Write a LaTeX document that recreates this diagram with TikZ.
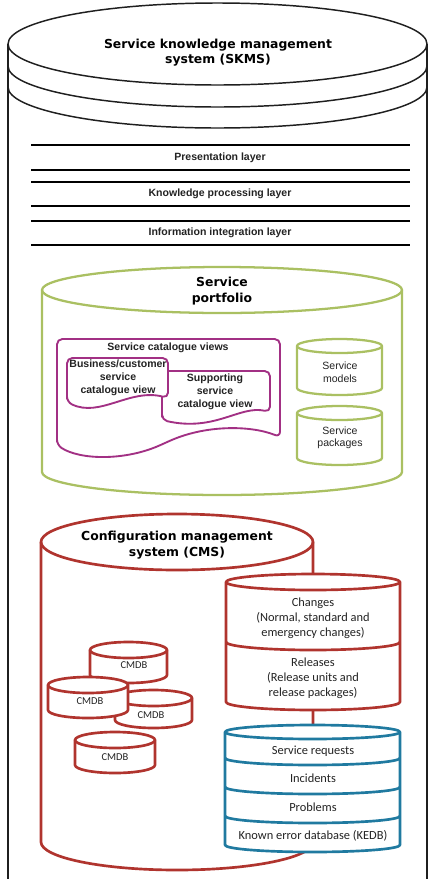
\documentclass[tikz,border=0pt]{standalone}
\usepackage{fontspec}
\setmainfont{Liberation Sans}
\newfontfamily\verdfont{DejaVu Sans}
\newfontfamily\calfont{Carlito}
\definecolor{skred}{RGB}{176,52,46}
\definecolor{skgreen}{RGB}{170,192,98}
\definecolor{skmag}{RGB}{162,48,132}
\definecolor{skblue}{RGB}{32,122,160}
\definecolor{sktext}{RGB}{35,35,35}

% cylinder: style, left x, right x, top centre y, bottom centre y, ellipse half height
\newcommand\dbbody[6]{%
  \pgfmathsetmacro\dbrx{(#3-#2)/2}%
  \filldraw[#1,fill=white] (#2,#4) -- (#2,#5)
    arc[start angle=180,end angle=360,x radius=\dbrx,y radius=#6] -- (#3,#4)
    arc[start angle=0,end angle=180,x radius=\dbrx,y radius=#6] -- cycle;
  \draw[#1] (#2,#4) arc[start angle=180,end angle=360,x radius=\dbrx,y radius=#6];
}
% lower half of an ellipse used as a divider line: style, left x, right x, centre y, half height
\newcommand\dbsplit[5]{%
  \pgfmathsetmacro\dbrx{(#3-#2)/2}%
  \draw[#1] (#2,#4) arc[start angle=180,end angle=360,x radius=\dbrx,y radius=#5];
}

\begin{document}
\begin{tikzpicture}[x=0.75pt,y=0.75pt,line join=round,
  skline/.style={draw=black!88,line width=1.1pt},
  layerline/.style={draw=black,line width=1.5pt},
  greenline/.style={draw=skgreen,line width=1.7pt},
  magline/.style={draw=skmag,line width=1.4pt},
  redline/.style={draw=skred,line width=2pt},
  blueline/.style={draw=skblue,line width=2pt},
  title/.style={font=\verdfont\bfseries\fontsize{9.3}{11.6}\selectfont,align=center,text=black},
  layerlabel/.style={font=\bfseries\fontsize{7.9}{9.6}\selectfont,text=sktext},
  viewlabel/.style={font=\bfseries\fontsize{7.9}{9.6}\selectfont,align=center,text=sktext},
  plainlabel/.style={font=\fontsize{7.9}{9.4}\selectfont,align=center,text=sktext},
  callabel/.style={font=\calfont\fontsize{9.3}{11.3}\selectfont,align=center,text=sktext},
  cmdblabel/.style={font=\calfont\fontsize{7.9}{9}\selectfont,text=sktext}]
\useasboundingbox (0,0) rectangle (433,-879);
\fill[white] (0,0) rectangle (433,-879);

% ---- Service knowledge management system (outer drum)
\draw[skline] (8,-44) -- (8,-879);
\draw[skline] (427,-44) -- (427,-879);
\draw[skline] (217.5,-44) ellipse[x radius=209.5,y radius=41];
\dbsplit{skline}{8}{427}{-66}{41}
\dbsplit{skline}{8}{427}{-87}{41}
\node[title] (skms) at (218,-52.5) {Service knowledge management\\system (SKMS)};

% ---- layers
\draw[layerline] (31,-145) -- (410,-145);
\draw[layerline] (31,-170) -- (410,-170);
\draw[layerline] (31,-182) -- (410,-182);
\draw[layerline] (31,-206) -- (410,-206);
\draw[layerline] (31,-221) -- (410,-221);
\draw[layerline] (31,-245) -- (410,-245);
\node[layerlabel] (present) at (220,-157.5) {Presentation layer};
\node[layerlabel] (knowproc) at (220,-194) {Knowledge processing layer};
\node[layerlabel] (infoint) at (220,-232.5) {Information integration layer};

% ---- Service portfolio
\dbbody{greenline}{42}{402}{-290}{-472}{23}
\node[title] (portfolio) at (222,-291) {Service\\portfolio};

% service catalogue views
\filldraw[magline,fill=white,rounded corners=4pt]
  (57,-445) -- (57,-339) -- (280,-339) -- (280,-437)
  .. controls (250,-425) and (205,-425) .. (165,-443)
  .. controls (125,-461) and (80,-460) .. (57,-445) -- cycle;
\node[viewlabel] (catviews) at (168,-347.5) {Service catalogue views};

\filldraw[magline,fill=white,rounded corners=4pt]
  (162,-420) -- (162,-371) -- (270,-371) -- (270,-412)
  .. controls (240,-405) and (215,-432) .. (162,-420) -- cycle;
\node[viewlabel] (supportview) at (215,-392) {Supporting\\service\\catalogue view};

\filldraw[magline,fill=white,rounded corners=4pt]
  (67,-402) -- (67,-358) -- (168,-358) -- (168,-398)
  .. controls (130,-388) and (100,-418) .. (67,-402) -- cycle;
\node[viewlabel] (bizview) at (118,-378) {Business/customer\\service\\catalogue view};

% service models and packages
\dbbody{greenline}{297}{382}{-346}{-388}{7}
\node[plainlabel] (models) at (340,-372) {Service\\models};
\dbbody{greenline}{297}{382}{-413}{-458}{7}
\node[plainlabel] (packages) at (340,-438) {Service\\packages};

% ---- Configuration management system
\dbbody{redline}{41}{313}{-542}{-842}{28}
\node[title] (cms) at (177,-545) {Configuration management\\system (CMS)};

% CMDBs
\dbbody{redline}{90}{167}{-650}{-675}{8}
\node[cmdblabel] (cmdbA) at (134,-665) {CMDB};
\dbbody{redline}{115}{192}{-698}{-720}{8}
\node[cmdblabel] (cmdbC) at (151,-715) {CMDB};
\dbbody{redline}{48}{128}{-685}{-710}{8}
\node[cmdblabel] (cmdbB) at (90,-701) {CMDB};
\dbbody{redline}{75}{155}{-740}{-765}{8}
\node[cmdblabel] (cmdbD) at (115,-757) {CMDB};

% changes and releases
\dbbody{redline}{226}{400}{-582}{-702}{8}
\dbsplit{redline}{226}{400}{-642}{8}
\node[callabel] (changes) at (313,-618) {Changes\\(Normal, standard and\\emergency changes)};
\node[callabel] (releases) at (313,-678) {Releases\\(Release units and\\release packages)};

% service management records
\dbbody{blueline}{225}{400}{-732}{-845}{7}
\dbsplit{blueline}{225}{400}{-758}{7}
\dbsplit{blueline}{225}{400}{-787}{7}
\dbsplit{blueline}{225}{400}{-816}{7}
\node[callabel] (requests) at (313,-751) {Service requests};
\node[callabel] (incidents) at (313,-778.5) {Incidents};
\node[callabel] (problems) at (313,-807) {Problems};
\node[callabel] (kedb) at (313,-836) {Known error database (KEDB)};
\end{tikzpicture}
\end{document}
